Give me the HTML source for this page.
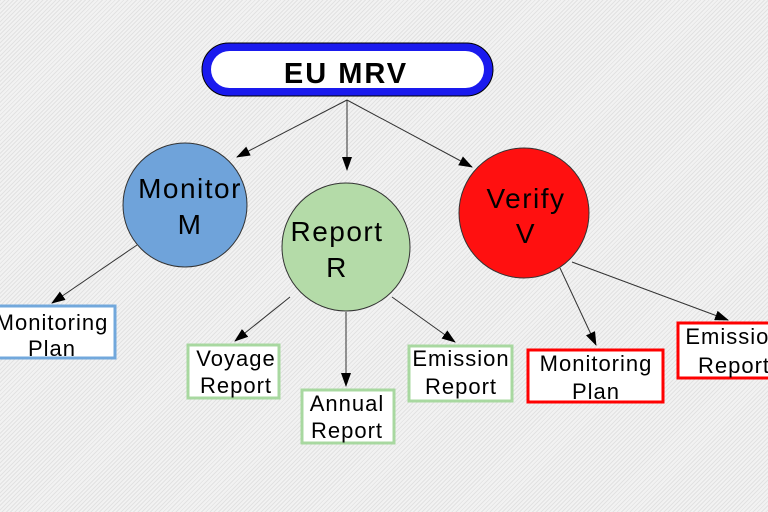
<!DOCTYPE html>
<html><head><style>
html,body{margin:0;padding:0}
body{width:768px;height:512px;overflow:hidden;background:#ececec;
background-image:repeating-linear-gradient(135deg,#e2e2e2 0,#e2e2e2 1px,#f2f2f2 1px,#f2f2f2 3px);}
svg{position:absolute;left:0;top:0}
text{font-family:"Liberation Sans","DejaVu Sans",sans-serif;fill:#000}
</style></head><body>
<svg width="768" height="512" viewBox="0 0 768 512">
<defs><marker id="a" markerWidth="14" markerHeight="10" refX="13" refY="5" orient="auto" markerUnits="userSpaceOnUse"><path d="M0,0 L14,5 L0,10 Z" fill="#000"/></marker></defs>
<g stroke="#333" stroke-width="1" fill="none" marker-end="url(#a)">
<line x1="347" y1="100" x2="237" y2="157"/>
<line x1="347" y1="100" x2="347" y2="170"/>
<line x1="347" y1="100" x2="472" y2="167"/>
<line x1="137" y1="245" x2="52" y2="303"/>
<line x1="290" y1="297" x2="235" y2="341"/>
<line x1="346" y1="312" x2="346" y2="386"/>
<line x1="392" y1="297" x2="455" y2="342"/>
<line x1="560" y1="268" x2="596" y2="345"/>
<line x1="572" y1="262" x2="728" y2="320"/>
</g>
<rect x="202" y="43" width="291" height="53" rx="26.5" fill="#1a1aee" stroke="#000" stroke-width="1"/>
<rect x="211" y="51" width="273" height="37" rx="18.5" fill="#fff"/>
<text x="346" y="83" font-size="29" font-weight="bold" letter-spacing="2" text-anchor="middle">EU MRV</text>
<circle cx="185" cy="205" r="62" fill="#6fa3da" stroke="#333"/>
<circle cx="346" cy="247" r="64" fill="#b4dba8" stroke="#333"/>
<circle cx="524" cy="213" r="65" fill="#ff1010" stroke="#333"/>
<g font-size="28" letter-spacing="1.5" text-anchor="middle">
<text x="190" y="198">Monitor</text>
<text x="190" y="234">M</text>
<text x="337" y="241">Report</text>
<text x="337" y="277">R</text>
<text x="526" y="208">Verify</text>
<text x="526" y="243">V</text>
</g>
<g stroke-width="3" fill="#fff">
<rect x="-6" y="306" width="121" height="52" stroke="#72a8dc"/>
<rect x="188" y="345" width="91" height="53" stroke="#a8d8a0"/>
<rect x="302" y="390" width="92" height="53" stroke="#a8d8a0"/>
<rect x="409" y="346" width="103" height="55" stroke="#a8d8a0"/>
<rect x="528" y="350" width="135" height="52" stroke="#f00"/>
<rect x="678" y="323" width="104" height="55" stroke="#f00"/>
</g>
<g font-size="22" letter-spacing="1" text-anchor="middle">
<text x="52" y="330">Monitoring</text><text x="52" y="356">Plan</text>
<text x="236" y="366">Voyage</text><text x="236" y="393">Report</text>
<text x="347" y="411">Annual</text><text x="347" y="438">Report</text>
<text x="461" y="366">Emission</text><text x="461" y="394">Report</text>
<text x="596" y="371">Monitoring</text><text x="596" y="399">Plan</text>
<text x="734" y="344">Emission</text><text x="734" y="373">Report</text>
</g>
</svg>
</body></html>
